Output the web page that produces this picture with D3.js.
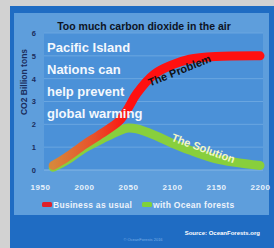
<!DOCTYPE html>
<html>
<head>
<meta charset="utf-8">
<script src="https://cdn.jsdelivr.net/npm/d3@7"></script>
<style>
  html, body { margin: 0; padding: 0; background: #d2d2d2; }
  svg { display: block; font-family: "Liberation Sans", Arial, sans-serif; }
</style>
</head>
<body>
<div id="chart"></div>
<script>
// values
const years = [1965, 1980, 2000, 2020, 2040, 2050, 2060, 2080, 2100, 2120, 2150, 2200];
const businessAsUsual = [0.2, 0.55, 1.1, 1.6, 2.15, 2.7, 3.35, 4.2, 4.6, 4.85, 4.97, 5.0];
const oceanForests = [0.12, 0.42, 0.95, 1.35, 1.72, 1.84, 1.8, 1.53, 1.18, 0.87, 0.49, 0.2];
const xTicks = [1950, 2000, 2050, 2100, 2150, 2200];
const yTicks = [0, 1, 2, 3, 4, 5, 6];
const messageLines = ['Pacific Island', 'Nations can', 'help prevent', 'global warming'];
const legendItems = [
  { label: 'Business as usual', color: '#e0202a' },
  { label: 'with Ocean forests', color: '#7fd23a' }
];

const W = 274, H = 248;
const svg = d3.select('#chart').append('svg')
  .attr('width', W)
  .attr('height', H);

// slide frame
svg.append('rect').attr('width', W).attr('height', H).attr('fill', '#d2d2d2');
svg.append('rect').attr('x', 10).attr('y', 6).attr('width', W - 10).attr('height', H - 6).attr('fill', '#1f6cc3');
svg.append('rect').attr('x', 14).attr('y', 13).attr('width', 255).attr('height', 202).attr('fill', '#5e9edc');

const x = d3.scaleLinear().domain([1950, 2200]).range([40, 260]);
const y = d3.scaleLinear().domain([0, 6]).range([170, 33]);

// plot area
svg.append('rect')
  .attr('x', 44).attr('y', y(6))
  .attr('width', 219).attr('height', y(0) - y(6))
  .attr('fill', '#4b91d8');

// gridlines
svg.append('g')
  .selectAll('line')
  .data(yTicks.slice(1))
  .join('line')
  .attr('x1', 44).attr('x2', 263)
  .attr('y1', d => y(d)).attr('y2', d => y(d))
  .attr('stroke', '#6aa6e0')
  .attr('stroke-width', 1);

svg.append('line')
  .attr('x1', 44).attr('x2', 263)
  .attr('y1', y(0)).attr('y2', y(0))
  .attr('stroke', '#86b6e4');

// y axis
const yAxis = svg.append('g')
  .attr('transform', 'translate(38,0)')
  .call(d3.axisLeft(y).tickValues(yTicks).tickFormat(d3.format('d')).tickSize(0).tickPadding(2));
yAxis.select('.domain').remove();
yAxis.selectAll('text')
  .attr('font-size', 7.5)
  .attr('font-weight', 'bold')
  .attr('fill', '#1b2d5c');

svg.append('text')
  .attr('transform', 'translate(27,82) rotate(-90)')
  .attr('text-anchor', 'middle')
  .attr('font-size', 8.5)
  .attr('font-weight', 'bold')
  .attr('fill', '#1b2d5c')
  .text('CO2 Billion tons');

// x axis
const xAxis = svg.append('g')
  .attr('transform', `translate(0,${y(0) + 12})`)
  .call(d3.axisBottom(x).tickValues(xTicks).tickFormat(d3.format('d')).tickSize(0).tickPadding(2));
xAxis.select('.domain').remove();
xAxis.selectAll('text')
  .attr('font-size', 8)
  .attr('font-weight', 'bold')
  .attr('letter-spacing', 0.5)
  .attr('fill', '#e8f1fb');

// title
svg.append('text')
  .attr('x', 144).attr('y', 30)
  .attr('text-anchor', 'middle')
  .attr('font-size', 10.5)
  .attr('font-weight', 'bold')
  .attr('fill', '#0d1424')
  .text('Too much carbon dioxide in the air');

// lines
const line = d3.line()
  .x((d, i) => x(years[i]))
  .y(d => y(d))
  .curve(d3.curveCatmullRom);

const defs = svg.append('defs');
const grad = defs.append('linearGradient')
  .attr('id', 'redGrad')
  .attr('gradientUnits', 'userSpaceOnUse')
  .attr('x1', x(1965)).attr('x2', x(2050))
  .attr('y1', 0).attr('y2', 0);
grad.append('stop').attr('offset', 0).attr('stop-color', '#d8863a');
grad.append('stop').attr('offset', 0.55).attr('stop-color', '#e8502a');
grad.append('stop').attr('offset', 1).attr('stop-color', '#ff1010');

svg.append('path')
  .datum(oceanForests)
  .attr('d', line)
  .attr('fill', 'none')
  .attr('stroke', '#88cf3c')
  .attr('stroke-width', 9)
  .attr('stroke-linecap', 'round');

svg.append('path')
  .datum(businessAsUsual)
  .attr('d', line)
  .attr('fill', 'none')
  .attr('stroke', 'url(#redGrad)')
  .attr('stroke-width', 9)
  .attr('stroke-linecap', 'round');

// message on the left
svg.append('g')
  .selectAll('text')
  .data(messageLines)
  .join('text')
  .attr('x', 47)
  .attr('y', (d, i) => 52 + i * 22)
  .attr('font-size', 13)
  .attr('font-weight', 'bold')
  .attr('fill', '#f4f8fd')
  .text(d => d);

// curve annotations
svg.append('text')
  .attr('transform', 'translate(181,74) rotate(-22)')
  .attr('text-anchor', 'middle')
  .attr('font-size', 11)
  .attr('fill', '#111')
  .attr('font-weight', 'bold')
  .text('The Problem');

svg.append('text')
  .attr('transform', 'translate(202,152) rotate(20)')
  .attr('text-anchor', 'middle')
  .attr('font-size', 11)
  .attr('fill', '#f3f7c6')
  .attr('font-weight', 'bold')
  .text('The Solution');

// legend
const legend = svg.append('g').attr('transform', 'translate(0,205)');
const legendX = [42, 142];
legendItems.forEach((d, i) => {
  legend.append('rect')
    .attr('x', legendX[i]).attr('y', -3)
    .attr('width', 10).attr('height', 5)
    .attr('rx', 1.5)
    .attr('fill', d.color);
  legend.append('text')
    .attr('x', legendX[i] + 11).attr('y', 3)
    .attr('font-size', 8.5)
    .attr('font-weight', 'bold')
    .attr('letter-spacing', 0.3)
    .attr('fill', '#edf3fb')
    .text(d.label);
});

// footer
svg.append('text')
  .attr('x', 260).attr('y', 235)
  .attr('text-anchor', 'end')
  .attr('font-size', 6)
  .attr('font-weight', 'bold')
  .attr('fill', '#ffffff')
  .text('Source: OceanForests.org');

svg.append('text')
  .attr('x', 143).attr('y', 241)
  .attr('text-anchor', 'middle')
  .attr('font-size', 4)
  .attr('fill', '#7aaee6')
  .text('© OceanForests 2016');
</script>
</body>
</html>
